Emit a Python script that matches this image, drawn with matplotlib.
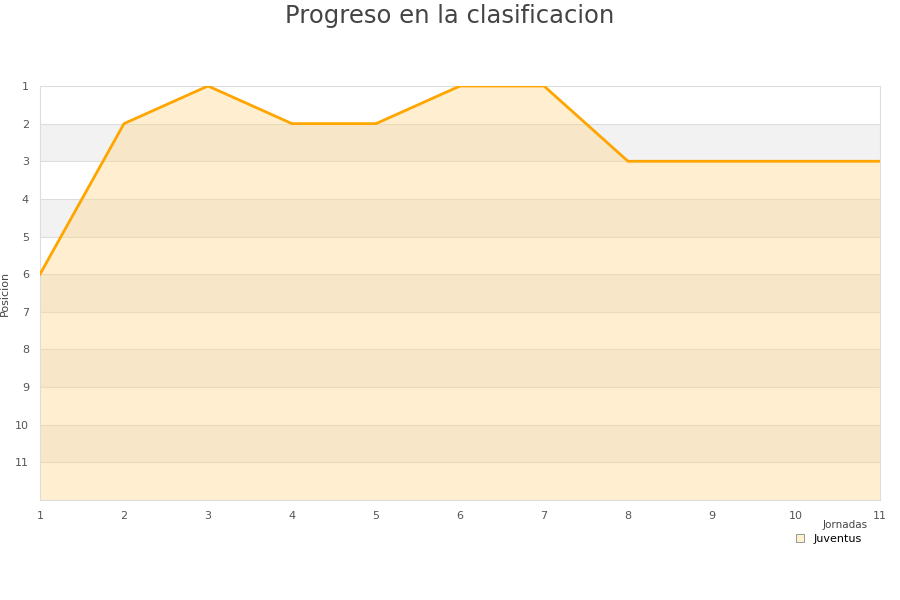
import matplotlib
matplotlib.use("Agg")
import matplotlib.pyplot as plt
from matplotlib.patches import Patch

jornadas = [1, 2, 3, 4, 5, 6, 7, 8, 9, 10, 11]
posicion = [6, 2, 1, 2, 2, 1, 1, 3, 3, 3, 3]
equipo = "Juventus"
y_ticks = [1, 2, 3, 4, 5, 6, 7, 8, 9, 10, 11]

fig = plt.figure(figsize=(9, 6), dpi=100)
ax = fig.add_axes([40/900, 1-500/600, 840/900, 414/600])

# alternating background bands
for k in range(1, 12):
    if k % 2 == 0:
        ax.axhspan(k, k+1, color="#f2f2f2", zorder=0, lw=0)
for k in range(2, 12):
    ax.axhline(k, color="#dddddd", lw=0.8, zorder=1)

ax.fill_between(jornadas, posicion, 12, color="#ffd88a", alpha=0.4, lw=0, zorder=2)
ax.plot(jornadas, posicion, color="#ffa500", lw=2, zorder=3)

ax.set_xlim(1, 11)
ax.set_ylim(12, 1)
ax.set_yticks(y_ticks)
ax.set_xticks(jornadas)
ax.tick_params(axis="both", length=0, labelsize=8, labelcolor="#555555", pad=8)
for s in ax.spines.values():
    s.set_color("#dddddd")
ax.set_ylabel("Posicion", fontsize=8, color="#444444")
ax.yaxis.set_label_coords(-30/840, 0.5)
ax.set_xlabel("Jornadas", fontsize=7.5, color="#444444", ha="right", va="center")
ax.xaxis.set_label_coords((868 - 40)/840, -25/414)

fig.suptitle("Progreso en la clasificacion", fontsize=17.5, color="#444444", y=0.993)

handle = Patch(facecolor="#fff0d0", edgecolor="#888888", lw=0.6, label=equipo)
leg = fig.legend(handles=[handle], loc="center", bbox_to_anchor=(829/900, 1-539/600),
                 frameon=True, fontsize=8, handlelength=0.7, handleheight=0.7,
                 framealpha=1, facecolor="white", edgecolor="white",
                 borderpad=0.2, handletextpad=0.9)
leg.get_frame().set_linewidth(0)
fig.savefig("out.png", dpi=100)
